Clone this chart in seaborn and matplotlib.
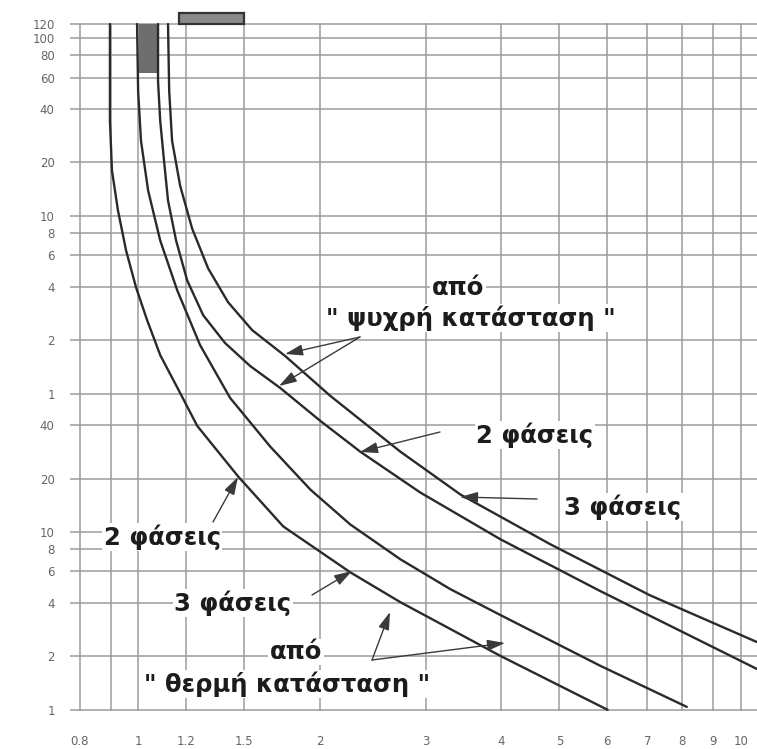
import matplotlib
matplotlib.use("Agg")
import matplotlib.pyplot as plt
import seaborn as sns
import pandas as pd
from matplotlib.patches import Rectangle

# ---------------- data (current in multiples of setting, time in seconds) ----------------
cold3_x = [1.120, 1.125, 1.1375, 1.173, 1.228, 1.3055, 1.409, 1.545, 1.753, 2.083, 2.723, 3.426, 4.834, 7.063, 10.64]
cold3_t = [7200, 3027, 1588, 888.1, 509.8, 304.2, 196.2, 136.7, 97.7, 58.3, 28.3, 16.25, 8.52, 4.412, 2.405]

cold2_x = [1.078, 1.078, 1.087, 1.103, 1.120, 1.155, 1.205, 1.281, 1.393, 1.533, 1.720, 2.0045, 2.336, 2.939, 3.994, 5.853, 10.64]
cold2_t = [7200, 3443, 2055, 1227, 731.8, 436.6, 260.5, 165.9, 115.6, 85.9, 64.6, 42.2, 28.3, 16.67, 9.09, 4.645, 1.697]

hot3_x = [0.995, 0.999, 1.010, 1.038, 1.087, 1.160, 1.266, 1.420, 1.656, 1.930, 2.248, 2.723, 3.297, 3.994, 5.853, 8.136]
hot3_t = [7200, 3027, 1588, 832.6, 436.6, 229.1, 112.6, 56.8, 30.2, 17.33, 11.03, 7.022, 4.768, 3.408, 1.765, 1.039]

hot2_x = [0.897, 0.897, 0.904, 0.925, 0.954, 0.991, 1.034, 1.087, 1.173, 1.252, 1.465, 1.740, 2.248, 2.723, 3.994, 6.012]
hot2_t = [7200, 2055, 1078, 643.2, 383.8, 238.1, 155.5, 98.97, 60.6, 39.58, 20.5, 10.75, 5.935, 4.03, 2.007, 1.0]

x_ticks = [0.8, 0.9, 1, 1.2, 1.5, 2, 3, 4, 5, 6, 7, 8, 9, 10]
x_labels = ["0.8", "", "1", "1.2", "1.5", "2", "3", "4", "5", "6", "7", "8", "9", "10"]
y_ticks = [1, 2, 4, 6, 8, 10, 20, 40, 60, 120, 240, 360, 480, 600, 1200, 2400, 3600, 4800, 6000, 7200]
y_labels = ["1", "2", "4", "6", "8", "10", "20", "40", "1", "2", "4", "6", "8", "10", "20", "40", "60", "80", "100", "120"]

block_x = [1.003, 1.075]
block_t = [3800, 7200]
bar_x = [1.17, 1.50]
bar_t = [7250, 8300]

# ---------------- figure ----------------
sns.set_theme(style="white")
plt.rcParams["font.family"] = ["DejaVu Sans"]

W, H = 757, 749
fig = plt.figure(figsize=(W / 100, H / 100), dpi=100)
fig.patch.set_facecolor("white")
L, R, T, B = 70, 757, 23, 711
ax = fig.add_axes([L / W, 1 - B / H, (R - L) / W, (B - T) / H])
ax.set_xscale("log")
ax.set_yscale("log")

frames = []
for name, xs, ts in [("c3", cold3_x, cold3_t), ("c2", cold2_x, cold2_t),
                     ("h3", hot3_x, hot3_t), ("h2", hot2_x, hot2_t)]:
    frames.append(pd.DataFrame({"I": xs, "t": ts, "curve": name}))
df = pd.concat(frames, ignore_index=True)

sns.lineplot(data=df, x="I", y="t", units="curve", estimator=None, sort=False,
             color="#2a2a2a", lw=1.7, ax=ax, legend=False, zorder=4)

ax.add_patch(Rectangle((block_x[0], block_t[0]), block_x[1] - block_x[0], block_t[1] - block_t[0],
                       facecolor="#6e6e6e", edgecolor="none", zorder=3))
ax.add_patch(Rectangle((bar_x[0], bar_t[0]), bar_x[1] - bar_x[0], bar_t[1] - bar_t[0],
                       facecolor="#8a8a8a", edgecolor="#333333", lw=1.6, zorder=5, clip_on=False))

ax.set_xlim(0.770, 10.64)
ax.set_ylim(0.985, 7300)
ax.set_xticks(x_ticks)
ax.set_xticklabels(x_labels)
ax.set_yticks(y_ticks)
ax.set_yticklabels(y_labels)
ax.minorticks_off()
ax.tick_params(axis="both", length=0, labelsize=8.5, labelcolor="#666666")
ax.tick_params(axis="x", pad=17)
ax.tick_params(axis="y", pad=11)
ax.grid(True, color="#9c9c9c", lw=1.1)
for s in ax.spines.values():
    s.set_visible(False)
ax.set_xlabel("")
ax.set_ylabel("")


def fp(px, py):
    return (px / W, 1 - py / H)


txt_kw = dict(fontsize=17.5, fontweight="bold", color="#1c1c1c", ha="center", va="center",
              bbox=dict(facecolor="white", edgecolor="none", pad=1.0), zorder=6)
texts = [
    ("από", 458, 288),
    ("\" ψυχρή κατάσταση \"", 471, 318),
    ("2 φάσεις", 535, 435),
    ("3 φάσεις", 623, 507),
    ("2 φάσεις", 162, 537),
    ("3 φάσεις", 233, 603),
    ("από", 296, 652),
    ("\" θερμή κατάσταση \"", 287, 684),
]
for s, px, py in texts:
    fig.text(*fp(px, py), s, **txt_kw)

arrows = [
    ((360, 337), (285, 354)),
    ((360, 337), (279, 386)),
    ((440, 432), (360, 452)),
    ((537, 499), (460, 497)),
    ((213, 522), (238, 477)),
    ((312, 595), (352, 571)),
    ((372, 660), (390, 612)),
    ((372, 660), (505, 643)),
]
for start, tip in arrows:
    ax.annotate("", xy=fp(*tip), xycoords="figure fraction",
                xytext=fp(*start), textcoords="figure fraction",
                arrowprops=dict(arrowstyle="-|>,head_length=0.9,head_width=0.28",
                                color="#3a3a3a", lw=1.0, shrinkA=0, shrinkB=0), zorder=7)

fig.savefig("out.png", dpi=100, facecolor="white")
